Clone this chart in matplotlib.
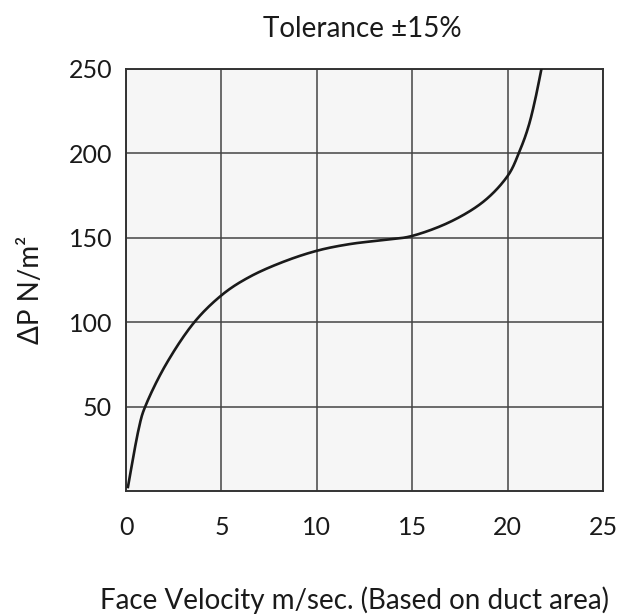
import matplotlib
matplotlib.use("Agg")
import matplotlib.pyplot as plt
import numpy as np

plt.rcParams['font.family'] = ['Lato', 'DejaVu Sans']

velocity = [0.09, 0.65, 1.08, 2.13, 3.53, 5.01, 6.5, 8.25, 10.03, 11.74, 13.49,
            15.03, 17.0, 18.73, 20.0, 20.65, 21.09, 21.44, 21.79]
pressure = [1.6, 36, 52, 75.7, 99.3, 116, 127, 135.8, 142.4, 146.3, 148.7,
            151.2, 159.5, 171.4, 186.6, 202, 215.8, 231.6, 251]

x_ticks = [0, 5, 10, 15, 20, 25]
y_ticks = [50, 100, 150, 200, 250]

title = "Tolerance ±15%"
xlabel = "Face Velocity m/sec. (Based on duct area)"
ylabel = "ΔP N/m²"

fig = plt.figure(figsize=(6.2, 6.15), dpi=100)
ax = fig.add_axes([126/620, 124/615, 477/620, 422/615])
ax.set_facecolor('#f6f6f6')

ts = np.linspace(0, len(velocity) - 1, 400)


def catmull(p, ts):
    p = np.asarray(p, float)
    out = []
    n = len(p)
    for tt in ts:
        i = int(min(np.floor(tt), n - 2))
        u = tt - i
        p0 = p[max(i - 1, 0)]; p1 = p[i]; p2 = p[i + 1]; p3 = p[min(i + 2, n - 1)]
        out.append(0.5 * ((2 * p1) + (-p0 + p2) * u + (2*p0 - 5*p1 + 4*p2 - p3) * u**2
                          + (-p0 + 3*p1 - 3*p2 + p3) * u**3))
    return np.array(out)


xs = catmull(velocity, ts)
ys = catmull(pressure, ts)
ax.plot(xs, ys, color='#1a1a1a', lw=1.9, solid_capstyle='butt', clip_on=True, zorder=3)

ax.set_xlim(0, 25)
ax.set_ylim(0, 250)
ax.set_xticks(x_ticks)
ax.set_yticks(y_ticks)
ax.grid(True, color='#444444', lw=1.1)
ax.set_axisbelow(True)
for s in ax.spines.values():
    s.set_color('#333333')
    s.set_linewidth(1.4)
ax.tick_params(axis='both', length=0, labelsize=18, colors='#1a1a1a')
ax.tick_params(axis='x', pad=18)
ax.tick_params(axis='y', pad=10)

fig.text(362/620, 1 - 37/615, title, ha='center', va='baseline', fontsize=20, color='#1a1a1a')
fig.text(354/620, 1 - 609/615, xlabel, ha='center', va='baseline', fontsize=20, color='#1a1a1a')
fig.text(31/620, 1 - 290/615, ylabel, ha='center', va='center', rotation=90, fontsize=20, color='#1a1a1a')

fig.savefig('out.png', dpi=100)
